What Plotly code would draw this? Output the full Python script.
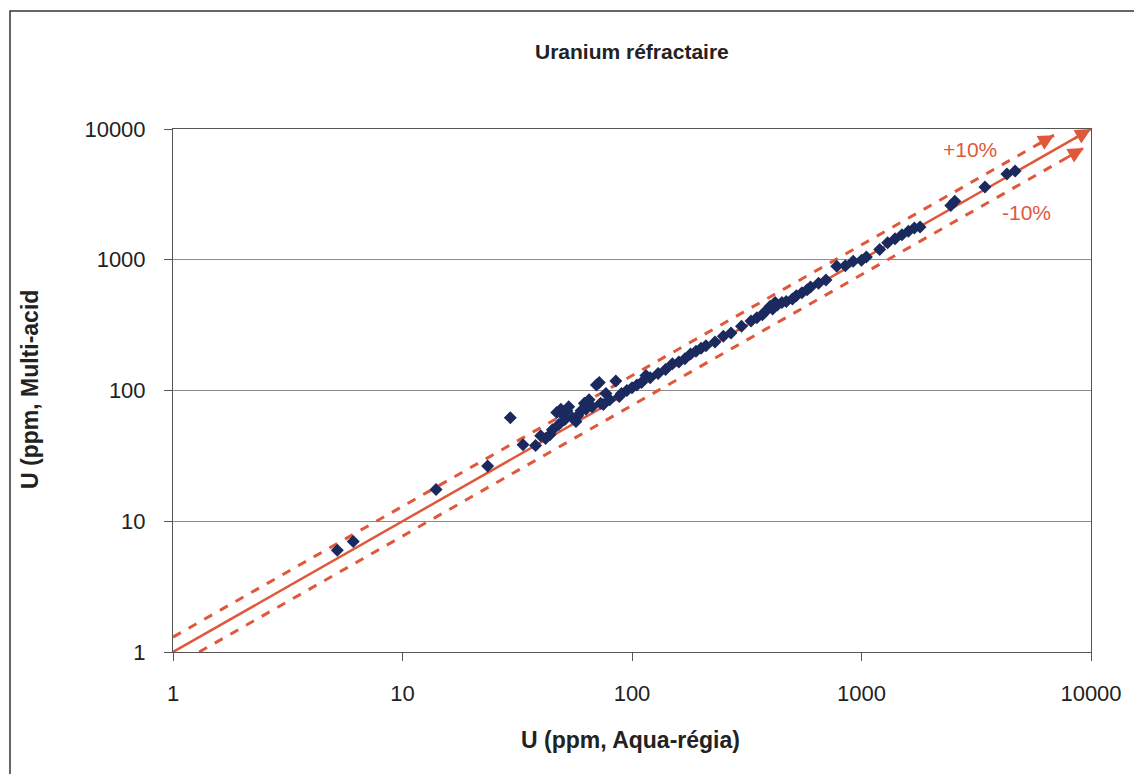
import math
import plotly.graph_objects as go

# ---- data ----
aqua_regia = [5.2, 6.1, 14, 23.5, 29.5, 33.5, 38, 40, 42, 44, 45, 47, 48, 49, 50, 51, 52, 53,
              55, 57, 58, 60, 62, 63, 65, 67, 70, 72, 73, 75, 77, 80, 85, 88, 90, 95, 100,
              105, 110, 115, 120, 130, 140, 150, 160, 170, 180, 190, 200, 210, 230, 250, 270,
              300, 330, 350, 370, 380, 400, 410, 420, 430, 450, 470, 500, 520, 550, 580, 600,
              650, 700, 780, 850, 920, 1000, 1050, 1200, 1300, 1400, 1500, 1600, 1700, 1800,
              2450, 2550, 3450, 4300, 4670]
multi_acid = [6.0, 7.0, 17.5, 26.5, 62, 38.5, 38, 45, 43, 46, 50, 68, 55, 72, 65, 60, 70, 75,
              62, 58, 64, 70, 80, 72, 85, 75, 110, 115, 80, 78, 95, 85, 118, 90, 95, 100, 105,
              110, 115, 130, 125, 135, 145, 160, 165, 175, 190, 200, 210, 220, 235, 260, 275,
              310, 340, 360, 380, 400, 440, 420, 470, 450, 470, 480, 500, 530, 560, 590, 620,
              660, 700, 890, 900, 975, 990, 1050, 1200, 1350, 1450, 1550, 1650, 1750, 1780,
              2600, 2800, 3600, 4520, 4770]

x_ticks = [1, 10, 100, 1000, 10000]
x_tick_labels = ["1", "10", "100", "1000", "10000"]
y_ticks = [1, 10, 100, 1000, 10000]
y_tick_labels = ["1", "10", "100", "1000", "10000"]

# reference lines: 1:1 and the "+10%" / "-10%" bands (as drawn)
ref_x = [1, 10000]
ref_y = [1, 10000]
upper_x = [1, 6900]
upper_factor = 1.3
lower_x = [1.3, 9300]
lower_factor = 1 / 1.3

RED = "#E0583C"
NAVY = "#1B2A5E"
FONT = "Arial, Liberation Sans, sans-serif"

fig = go.Figure()

fig.add_trace(go.Scatter(x=upper_x, y=[v * upper_factor for v in upper_x], mode="lines",
                         line=dict(color=RED, width=3, dash="dash"), hoverinfo="skip"))
fig.add_trace(go.Scatter(x=lower_x, y=[v * lower_factor for v in lower_x], mode="lines",
                         line=dict(color=RED, width=3, dash="dash"), hoverinfo="skip"))
fig.add_trace(go.Scatter(x=ref_x, y=ref_y, mode="lines",
                         line=dict(color=RED, width=2.5), hoverinfo="skip"))
fig.add_trace(go.Scatter(x=aqua_regia, y=multi_acid, mode="markers",
                         marker=dict(symbol="diamond", size=10, color=NAVY)))

# arrowheads at line ends
def arrow_head(x_end, y_end):
    lx, ly = math.log10(x_end), math.log10(y_end)
    fig.add_annotation(x=lx, y=ly, ax=lx - 0.08, ay=ly - 0.08, xref="x", yref="y",
                       axref="x", ayref="y", text="", showarrow=True, arrowhead=2,
                       arrowsize=1.2, arrowwidth=2.6, arrowcolor=RED, standoff=0)

arrow_head(ref_x[-1], ref_y[-1])
arrow_head(upper_x[-1], upper_x[-1] * upper_factor)
arrow_head(lower_x[-1], lower_x[-1] * lower_factor)

fig.add_annotation(x=3.473, y=3.847, xref="x", yref="y", text="+10%",
                   showarrow=False, font=dict(family=FONT, size=21, color=RED))
fig.add_annotation(x=3.721, y=3.364, xref="x", yref="y", text="-10%",
                   showarrow=False, font=dict(family=FONT, size=21, color=RED))

# titles
fig.add_annotation(x=(632 - 173) / 918, y=(652 - 52) / 523, xref="paper", yref="paper",
                   xanchor="center", yanchor="middle", text="<b>Uranium réfractaire</b>",
                   showarrow=False, font=dict(family=FONT, size=21, color="#222"))
fig.add_annotation(x=(630 - 173) / 918, y=(652 - 740) / 523, xref="paper", yref="paper",
                   xanchor="center", yanchor="middle", text="<b>U (ppm, Aqua-régia)</b>",
                   showarrow=False, font=dict(family=FONT, size=23, color="#222"))
fig.add_annotation(x=(30 - 173) / 918, y=(652 - 390) / 523, xref="paper", yref="paper",
                   xanchor="center", yanchor="middle", text="<b>U (ppm, Multi-acid</b>",
                   showarrow=False, textangle=-90, font=dict(family=FONT, size=23, color="#222"))

# outer frame
fig.add_shape(type="rect", xref="paper", yref="paper",
              x0=(10 - 173) / 918, x1=(1140 - 173) / 918,
              y0=(652 - 780) / 523, y1=(652 - 11) / 523,
              line=dict(color="#333", width=1.5), fillcolor="rgba(0,0,0,0)", layer="below")

fig.update_layout(
    width=1134, height=774,
    margin=dict(l=173, r=43, t=129, b=122),
    paper_bgcolor="white", plot_bgcolor="white",
    showlegend=False,
    font=dict(family=FONT, size=22, color="#222"),
)
fig.update_xaxes(type="log", range=[0, 4], tickvals=x_ticks, ticktext=x_tick_labels,
                 showgrid=False, showline=True, linecolor="#555", linewidth=1, mirror=True,
                 ticks="outside", ticklen=8, tickcolor="#555", ticklabelstandoff=14,
                 zeroline=False, tickfont=dict(size=22))
fig.update_yaxes(type="log", range=[0, 4], tickvals=y_ticks, ticktext=y_tick_labels,
                 showgrid=True, gridcolor="#8c8c8c", gridwidth=1,
                 showline=True, linecolor="#555", linewidth=1, mirror=True,
                 ticks="outside", ticklen=8, tickcolor="#555", ticklabelstandoff=14,
                 zeroline=False, tickfont=dict(size=22))

fig.write_html("out.html")
